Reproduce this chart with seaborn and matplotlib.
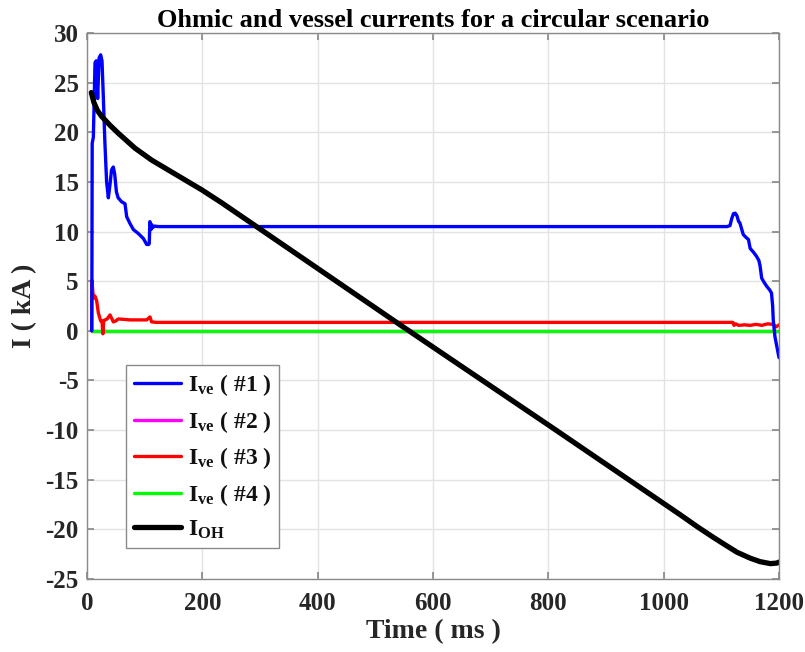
import numpy as np
import pandas as pd
import matplotlib
matplotlib.use("Agg")
import matplotlib.pyplot as plt
import seaborn as sns

# ---------------- data ----------------
t_ve1 = [8.2, 8.5, 9.0, 11.0, 13.9, 16.0, 18.5, 21.0, 23.7, 26.0, 28.3, 31.0, 34.0, 37.0,
         40.0, 42.5, 45.6, 48.0, 51.0, 54.0, 60.0, 65.9, 68.8, 74.6, 80.4, 89.0,
         97.7, 103.5, 107.0, 108.0, 109.0, 110.0, 111.0, 112.0, 114.0, 117.0, 123.7,
         400.0, 800.0, 1110.0, 1115.0, 1118.0, 1121.0, 1124.0, 1127.0, 1130.0, 1132.0,
         1138.0, 1143.0, 1147.0, 1150.0, 1156.0, 1161.0, 1165.0, 1167.0, 1170.0, 1174.0,
         1178.5, 1184.0, 1187.0, 1189.0, 1190.0, 1193.0, 1196.0, 1200.0]
i_ve1 = [0.0, 5.0, 18.9, 19.5, 27.0, 27.2, 23.4, 27.5, 27.8, 27.2, 23.6, 19.0, 15.0, 13.4,
         14.8, 16.2, 16.5, 15.8, 14.0, 13.4, 13.0, 12.8, 11.5, 10.8, 10.2, 9.8,
         9.3, 8.7, 8.7, 8.8, 11.0, 10.8, 10.2, 10.7, 10.4, 10.55, 10.5,
         10.5, 10.5, 10.5, 10.6, 11.3, 11.8, 11.85, 11.6, 11.0, 10.9,
         9.7, 9.4, 9.2, 8.3, 7.9, 7.5, 7.1, 6.6, 5.3, 4.9,
         4.5, 4.1, 3.8, 2.5, 1.1, -0.6, -1.5, -2.7]

t_ve2 = [8.2, 1200.0]
i_ve2 = [0.0, 0.0]

t_ve3 = [8.2, 8.5, 11.0, 13.9, 16.8, 19.7, 23.7, 26.0, 27.5, 29.0, 31.2, 35.0, 39.9,
         45.7, 50.0, 54.4, 74.6, 103.5, 109.2, 112.0, 120.0, 600.0, 1120.0, 1122.0,
         1125.0, 1130.0, 1140.0, 1150.0, 1160.0, 1170.0, 1180.0, 1190.0, 1195.0, 1200.0]
i_ve3 = [0.0, 5.1, 3.3, 3.5, 3.0, 1.8, 1.0, 1.0, -0.3, 1.0, 1.1, 1.2, 1.6,
         0.9, 1.0, 1.2, 1.1, 1.1, 1.4, 0.9, 0.85, 0.85, 0.85, 0.55,
         0.7, 0.55, 0.6, 0.55, 0.65, 0.55, 0.7, 0.65, 0.4, 0.6]

t_ve4 = [8.2, 1200.0]
i_ve4 = [0.0, 0.0]

t_oh = [7.5, 12.0, 18.0, 25.4, 40.0, 54.3, 83.2, 112.0, 141.0, 170.0, 199.0, 233.5,
        543.0, 803.0, 1028.0, 1060.0, 1086.0, 1105.0, 1127.0, 1150.0, 1167.0, 1185.0,
        1196.0, 1200.0]
i_oh = [24.0, 23.0, 22.2, 21.6, 20.7, 19.9, 18.4, 17.2, 16.2, 15.2, 14.2, 12.9,
        0.6, -9.6, -18.5, -19.8, -20.8, -21.5, -22.3, -22.9, -23.25, -23.45,
        -23.4, -23.3]

labels = [r'$\mathrm{I}_{\mathrm{ve}}$ ( #1 )', r'$\mathrm{I}_{\mathrm{ve}}$ ( #2 )',
          r'$\mathrm{I}_{\mathrm{ve}}$ ( #3 )', r'$\mathrm{I}_{\mathrm{ve}}$ ( #4 )',
          r'$\mathrm{I}_{\mathrm{OH}}$']
colors = ['#0000ff', '#ff00ff', '#ff0000', '#00ff00', '#000000']
widths = [2.4, 2.4, 2.4, 2.4, 3.8]

x_ticks = [0, 200, 400, 600, 800, 1000, 1200]
y_ticks = [-25, -20, -15, -10, -5, 0, 5, 10, 15, 20, 25, 30]

# ---------------- style ----------------
sns.set_theme(style="white")
plt.rcParams['font.family'] = ['Liberation Serif', 'DejaVu Serif']
plt.rcParams['font.weight'] = 'bold'
plt.rcParams['axes.unicode_minus'] = False
plt.rcParams['mathtext.fontset'] = 'custom'
plt.rcParams['mathtext.rm'] = 'Liberation Serif:bold'
plt.rcParams['mathtext.it'] = 'Liberation Serif:bold'
plt.rcParams['mathtext.bf'] = 'Liberation Serif:bold'

fig = plt.figure(figsize=(8.05, 6.52), dpi=100)
ax = fig.add_axes([87 / 805, (652 - 579) / 652, (779 - 87) / 805, (579 - 33) / 652])

series = [(t_ve1, i_ve1), (t_ve2, i_ve2), (t_ve3, i_ve3), (t_ve4, i_ve4), (t_oh, i_oh)]
order = [1, 3, 2, 0, 4]  # draw order: magenta, green, red, blue, black
for k in order:
    tx, iy = series[k]
    df = pd.DataFrame({'t': tx, 'i': iy})
    sns.lineplot(data=df, x='t', y='i', ax=ax, color=colors[k], linewidth=widths[k],
                 estimator=None, sort=False, label=labels[k])

ax.set_xlim(0, 1200)
ax.set_ylim(-25, 30)
ax.set_xticks(x_ticks)
ax.set_yticks(y_ticks)
ax.grid(True, color='#e3e3e3', linewidth=1.0)
ax.set_axisbelow(True)
for s in ax.spines.values():
    s.set_color('#8a8a8a')
    s.set_linewidth(1.0)
ax.tick_params(direction='in', length=5, color='#8a8a8a', labelsize=18,
               labelcolor='#262626', top=True, right=True, bottom=True, left=True)
ax.tick_params(axis='x', pad=9)
ax.tick_params(axis='y', pad=6)
for lab in ax.get_xticklabels() + ax.get_yticklabels():
    lab.set_fontweight('bold')

ax.set_xlabel('Time ( ms )', fontsize=20, fontweight='bold', color='#262626', labelpad=3)
ax.set_ylabel('I ( kA )', fontsize=20, fontweight='bold', color='#262626', labelpad=6)
ax.set_title('Ohmic and vessel currents for a circular scenario', fontsize=19,
             fontweight='bold', color='black', pad=4)

h, l = ax.get_legend_handles_labels()
lab_to_h = dict(zip(l, h))
leg = ax.legend([lab_to_h[x] for x in labels], labels, loc='lower left',
                bbox_to_anchor=(0.057, 0.057), fontsize=17, frameon=True,
                fancybox=False, edgecolor='#8a8a8a', framealpha=1.0,
                handlelength=2.0, handletextpad=0.3, labelspacing=0.45,
                borderpad=0.3, borderaxespad=0.0)
leg.get_frame().set_linewidth(1.0)
for line in leg.get_lines():
    line.set_linewidth(2.4)
leg.get_lines()[-1].set_linewidth(3.8)
for txt in leg.get_texts():
    txt.set_color('#111111')

fig.savefig('out.png', dpi=100)
